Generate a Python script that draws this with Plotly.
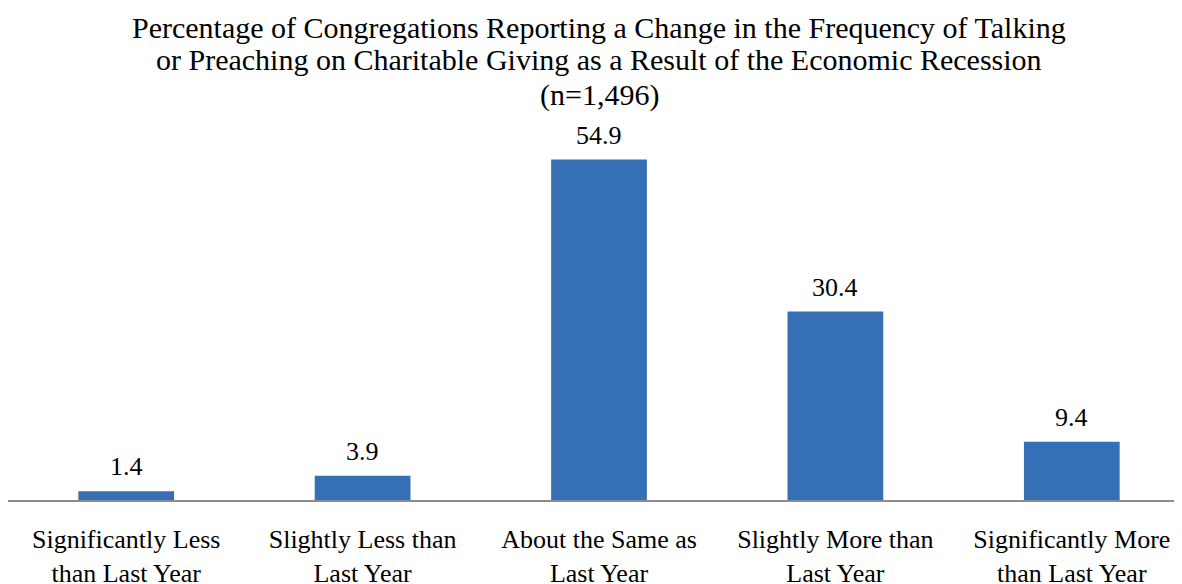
import plotly.graph_objects as go

categories = ["Significantly Less<br>than Last Year", "Slightly Less than<br>Last Year",
              "About the Same as<br>Last Year", "Slightly More than<br>Last Year",
              "Significantly More<br>than Last Year"]
values = [1.4, 3.9, 54.9, 30.4, 9.4]
value_labels = ["1.4", "3.9", "54.9", "30.4", "9.4"]

title_lines = ["Percentage of Congregations Reporting a Change in the Frequency of Talking",
               "or Preaching on Charitable Giving as a Result of the Economic Recession",
               "(n=1,496)"]
title_line_y = [1.2715, 1.1828, 1.0887]

FONT = "Liberation Serif, Times New Roman, serif"

fig = go.Figure()
fig.add_trace(go.Bar(
    x=categories, y=values,
    marker=dict(color="#3570B6", line=dict(width=0)),
    width=0.405,
))

for c, v, t in zip(categories, values, value_labels):
    fig.add_annotation(x=c, y=v, text=t, showarrow=False, yanchor="bottom",
                       yshift=8, font=dict(family=FONT, size=26, color="black"))

for line, ly in zip(title_lines, title_line_y):
    fig.add_annotation(xref="paper", yref="paper", x=0.5, y=ly, text=line,
                       showarrow=False, xanchor="center", yanchor="middle",
                       font=dict(family=FONT, size=30, color="black"))

fig.update_layout(
    width=1182, height=584,
    margin=dict(l=0, r=0, t=120, b=92, autoexpand=False),
    paper_bgcolor="white", plot_bgcolor="white",
    showlegend=False,
    bargap=0.6,
)
fig.update_xaxes(showline=True, linecolor="#8C8C8C", linewidth=2, ticks="",
                 tickfont=dict(family=FONT, size=26, color="black"),
                 ticklabelstandoff=15, automargin=False)
fig.update_yaxes(visible=False, range=[0, 60], automargin=False)

fig.write_html("out.html")
